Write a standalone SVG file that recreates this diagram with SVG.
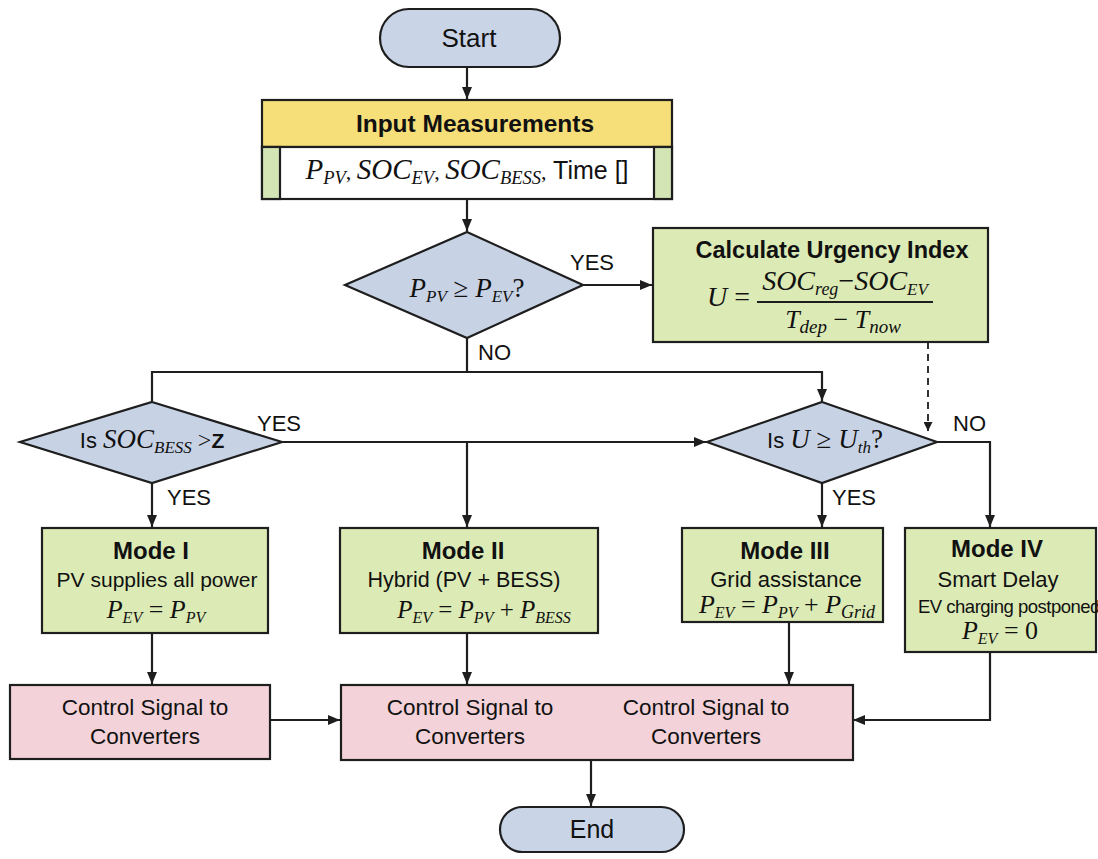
<svg xmlns="http://www.w3.org/2000/svg" width="1098" height="859" viewBox="0 0 1098 859">
<style>
.bd{stroke:#1e1e1e;stroke-width:2.2}
.term{fill:#c9d5e7}
.dia{fill:#c7d3e5}
.grn{fill:#dcebb6}
.pnk{fill:#f3d3d9}
.yel{fill:#f6de79}
.side{fill:#d4e5b5}
.t{font-family:"Liberation Sans",Arial,sans-serif;fill:#111;text-anchor:middle}
.ts{font-family:"Liberation Sans",Arial,sans-serif;fill:#111;text-anchor:start}
.b{font-weight:bold}
.m{font-family:"Liberation Serif","Times New Roman",serif;font-style:italic;fill:#111}
.sb{font-size:16px}
.up{font-style:normal}
.ln{fill:none;stroke:#1e1e1e;stroke-width:2.2}
.dash{fill:none;stroke:#1e1e1e;stroke-width:1.8;stroke-dasharray:7 5}
.lab{font-family:"Liberation Sans",Arial,sans-serif;font-size:22px;fill:#111}
</style>
<defs>
<marker id="ah" viewBox="0 0 12 10" refX="12" refY="5" markerWidth="12" markerHeight="10" markerUnits="userSpaceOnUse" orient="auto">
<path d="M0,0 L12,5 L0,10 z" fill="#1e1e1e"/>
</marker>
<marker id="ahs" viewBox="0 0 10 10" refX="10" refY="5" markerWidth="10" markerHeight="9" markerUnits="userSpaceOnUse" orient="auto">
<path d="M0,0 L10,5 L0,10 z" fill="#1e1e1e"/>
</marker>
</defs>
<rect width="1098" height="859" fill="#ffffff"/>

<g id="connectors">
<path class="ln" d="M467,67 V99" marker-end="url(#ah)"/>
<path class="ln" d="M467,199 V231" marker-end="url(#ah)"/>
<path class="ln" d="M583,285 H652" marker-end="url(#ah)"/>
<path class="ln" d="M467,338 V372"/>
<path class="ln" d="M152,401 V372 H822 V401" marker-start="url(#ah)" marker-end="url(#ah)"/>
<path class="dash" d="M928,342 V431" marker-end="url(#ahs)"/>
<path class="ln" d="M280,442 H706" marker-end="url(#ah)"/>
<path class="ln" d="M467,442 V527" marker-end="url(#ah)"/>
<path class="ln" d="M152,483 V527" marker-end="url(#ah)"/>
<path class="ln" d="M822,483 V527" marker-end="url(#ah)"/>
<path class="ln" d="M937,442 H990 V527" marker-end="url(#ah)"/>
<path class="ln" d="M152,633 V684" marker-end="url(#ah)"/>
<path class="ln" d="M467,633 V684" marker-end="url(#ah)"/>
<path class="ln" d="M789,622 V684" marker-end="url(#ah)"/>
<path class="ln" d="M990,652 V720 H853" marker-end="url(#ah)"/>
<path class="ln" d="M270,720 H340" marker-end="url(#ah)"/>
<path class="ln" d="M591,760 V806" marker-end="url(#ah)"/>
</g>

<g id="start">
<rect class="term bd" x="380" y="9" width="180" height="58" rx="29"/>
<text class="t" x="469" y="47" font-size="26">Start</text>
</g>

<g id="input">
<rect class="yel bd" x="262" y="100" width="410" height="47"/>
<rect fill="#ffffff" class="bd" x="262" y="147" width="410" height="52"/>
<rect class="side bd" x="262" y="147" width="18" height="52"/>
<rect class="side bd" x="654" y="147" width="18" height="52"/>
<text class="t b" x="475" y="132" font-size="24.5">Input Measurements</text>
<text class="m" x="467" y="179" font-size="29" text-anchor="middle">P<tspan font-size="18.5" dy="5">PV</tspan><tspan dy="-5" class="up" font-size="22">, </tspan>SOC<tspan font-size="18.5" dy="5">EV</tspan><tspan dy="-5" class="up" font-size="22">, </tspan>SOC<tspan font-size="18.5" dy="5">BESS</tspan><tspan dy="-5" class="up" font-size="22">,</tspan><tspan font-family="Liberation Sans,Arial,sans-serif" class="up" font-size="25"> Time []</tspan></text>
</g>

<g id="dec1">
<polygon class="dia bd" points="467,232 583,285 467,338 345,285"/>
<text class="m" x="467" y="297" font-size="27" text-anchor="middle">P<tspan font-size="17" dy="5">PV</tspan><tspan dy="-5" class="up"> ≥ </tspan>P<tspan font-size="17" dy="5">EV</tspan><tspan dy="-5" class="up">?</tspan></text>
<text class="lab" x="570" y="270">YES</text>
<text class="lab" x="478" y="360">NO</text>
</g>

<g id="urgency">
<rect class="grn bd" x="653" y="228" width="335" height="114"/>
<text class="t b" x="832" y="258" font-size="23.5">Calculate Urgency Index</text>
<text class="m" x="707" y="306" font-size="28">U <tspan class="up">=</tspan></text>
<text class="m" x="845" y="290" font-size="28" text-anchor="middle">SOC<tspan font-size="18" dy="5">reg</tspan><tspan dy="-5" class="up">−</tspan>SOC<tspan font-size="17" dy="5">EV</tspan></text>
<line x1="757" y1="302" x2="933" y2="302" stroke="#1e1e1e" stroke-width="1.8"/>
<text class="m" x="843" y="328" font-size="26" text-anchor="middle">T<tspan font-size="19" dy="5">dep</tspan><tspan dy="-5" class="up"> − </tspan>T<tspan font-size="19" dy="5">now</tspan></text>
</g>

<g id="dec2">
<polygon class="dia bd" points="152,402 282,442 152,483 20,442"/>
<text x="152" y="448" text-anchor="middle" class="m" font-size="27"><tspan font-family="Liberation Sans,Arial,sans-serif" class="up" font-size="22">Is </tspan>SOC<tspan font-size="17" dy="5">BESS</tspan><tspan dy="-5" class="up" font-size="24"> &gt;</tspan><tspan font-family="Liberation Sans,Arial,sans-serif" class="up" font-weight="bold" font-size="21">Z</tspan></text>
<text class="lab" x="257" y="431">YES</text>
<text class="lab" x="167" y="505">YES</text>
</g>

<g id="dec3">
<polygon class="dia bd" points="822,402 937,442 822,483 707,442"/>
<text x="825" y="448" text-anchor="middle" class="m" font-size="27"><tspan font-family="Liberation Sans,Arial,sans-serif" class="up" font-size="22">Is </tspan>U<tspan class="up"> ≥ </tspan>U<tspan font-size="17" dy="5">th</tspan><tspan dy="-5" class="up">?</tspan></text>
<text class="lab" x="953" y="431">NO</text>
<text class="lab" x="832" y="505">YES</text>
</g>

<g id="mode1">
<rect class="grn bd" x="42" y="528" width="226" height="105"/>
<text class="t b" x="151" y="559" font-size="24">Mode I</text>
<text class="t" x="157" y="587" font-size="21">PV supplies all power</text>
<text class="m" x="156" y="618" font-size="26" text-anchor="middle">P<tspan class="sb" dy="5">EV</tspan><tspan dy="-5" class="up"> = </tspan>P<tspan class="sb" dy="5">PV</tspan></text>
</g>

<g id="mode2">
<rect class="grn bd" x="340" y="528" width="258" height="105"/>
<text class="t b" x="463" y="559" font-size="24">Mode II</text>
<text class="t" x="464" y="587" font-size="21.5">Hybrid (PV + BESS)</text>
<text class="m" x="484" y="618" font-size="25" text-anchor="middle">P<tspan class="sb" dy="5">EV</tspan><tspan dy="-5" class="up"> = </tspan>P<tspan class="sb" dy="5">PV</tspan><tspan dy="-5" class="up"> + </tspan>P<tspan class="sb" dy="5">BESS</tspan></text>
</g>

<g id="mode3">
<rect class="grn bd" x="682" y="528" width="201" height="94"/>
<text class="t b" x="785" y="559" font-size="24">Mode III</text>
<text class="t" x="786" y="587" font-size="22">Grid assistance</text>
<text class="m" x="787" y="613" font-size="26" text-anchor="middle">P<tspan class="sb" dy="5">EV</tspan><tspan dy="-5" class="up"> = </tspan>P<tspan class="sb" dy="5">PV</tspan><tspan dy="-5" class="up"> + </tspan>P<tspan font-size="18" dy="5">Grid</tspan></text>
</g>

<g id="mode4">
<rect class="grn bd" x="905" y="528" width="191" height="124"/>
<text class="t b" x="997" y="557" font-size="24">Mode IV</text>
<text class="t" x="998" y="587" font-size="22">Smart Delay</text>
<text class="ts" x="918" y="613" font-size="18.5" letter-spacing="-0.5">EV charging postponed</text>
<text class="m" x="1000" y="639" font-size="26" text-anchor="middle">P<tspan class="sb" dy="5">EV</tspan><tspan dy="-5" class="up"> = 0</tspan></text>
</g>

<g id="ctrl1">
<rect class="pnk bd" x="10" y="685" width="260" height="74"/>
<text class="t" x="145" y="715" font-size="22.5">Control Signal to</text>
<text class="t" x="145" y="744" font-size="22.5">Converters</text>
</g>

<g id="ctrl2">
<rect class="pnk bd" x="341" y="685" width="512" height="75"/>
<text class="t" x="470" y="715" font-size="22.5">Control Signal to</text>
<text class="t" x="470" y="744" font-size="22.5">Converters</text>
<text class="t" x="706" y="715" font-size="22.5">Control Signal to</text>
<text class="t" x="706" y="744" font-size="22.5">Converters</text>
</g>

<g id="end">
<rect class="term bd" x="500" y="807" width="184" height="45" rx="22.5"/>
<text class="t" x="592" y="838" font-size="25">End</text>
</g>
</svg>
